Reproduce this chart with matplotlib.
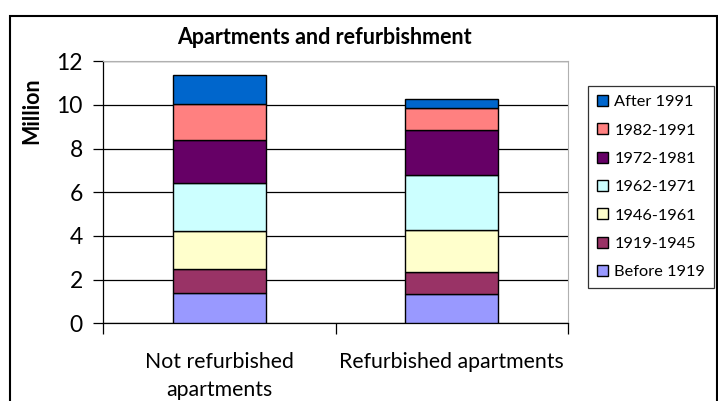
import matplotlib.pyplot as plt
import matplotlib.patches as mpatches
from matplotlib.ticker import FixedLocator

categories = ['Not refurbished\napartments', 'Refurbished apartments']
periods = ['Before 1919', '1919-1945', '1946-1961', '1962-1971',
           '1972-1981', '1982-1991', 'After 1991']
not_refurbished = [1.41, 1.07, 1.76, 2.18, 1.99, 1.64, 1.31]
refurbished = [1.35, 1.02, 1.89, 2.54, 2.05, 1.03, 0.41]
colors = ['#9999FF', '#993366', '#FFFFCC', '#CCFFFF',
          '#660066', '#FF8080', '#0066CC']

plt.rcParams['font.family'] = ['Lato', 'DejaVu Sans']

fig = plt.figure(figsize=(7.18, 4.01), dpi=100)
ax = fig.add_axes([103 / 718, 1 - 323.3 / 401, 465 / 718, 262 / 401])

x = [0, 1]
bottoms = [0, 0]
handles = []
for i, name in enumerate(periods):
    vals = [not_refurbished[i], refurbished[i]]
    b = ax.bar(x, vals, 0.4, bottom=bottoms, color=colors[i],
               edgecolor='black', linewidth=1.0, label=name, zorder=3)
    handles.append(b)
    bottoms = [bottoms[0] + vals[0], bottoms[1] + vals[1]]

ax.set_xlim(-0.5, 1.5)
ax.set_ylim(0, 12)
ax.set_yticks(range(0, 13, 2))
ax.yaxis.grid(True, color='black', linewidth=0.9, zorder=0)
ax.set_axisbelow(True)
ax.tick_params(axis='y', labelsize=16.5, length=7, width=0.9, direction='out', pad=7.5)

ax.set_xticks(x)
ax.set_xticklabels(categories, fontsize=15.3, linespacing=1.5)
ax.xaxis.set_minor_locator(FixedLocator([-0.5, 0.5, 1.5]))
ax.tick_params(axis='x', which='major', length=0, pad=21)
ax.tick_params(axis='x', which='minor', length=8, width=0.9, direction='out')

for s in ['top', 'right']:
    ax.spines[s].set_color('#b0b0b0')
for s in ['left', 'bottom']:
    ax.spines[s].set_color('black')
    ax.spines[s].set_linewidth(0.9)

fig.text(324 / 718, 1 - 44 / 401, 'Apartments and refurbishment', fontsize=15.5,
         fontweight='bold', ha='center', va='baseline')
ax.set_ylabel('Million', fontsize=15.5, fontweight='bold')
ax.yaxis.set_label_coords(-0.13, 0.81)

leg = fig.legend(handles[::-1], periods[::-1], loc='upper left',
                 bbox_to_anchor=(588 / 718, 1 - 86 / 401), fontsize=11.8,
                 frameon=True, fancybox=False, edgecolor='black',
                 handlelength=0.65, handleheight=0.65, handletextpad=0.4,
                 labelspacing=0.86, borderpad=0.55, borderaxespad=0)
leg.get_frame().set_linewidth(0.9)

fig.patches.append(mpatches.Rectangle((10 / 718, -0.05), 707 / 718, 1 - 16 / 401 + 0.05,
                                      transform=fig.transFigure, fill=False,
                                      edgecolor='black', linewidth=1.5))

fig.savefig('out.png', dpi=100)
